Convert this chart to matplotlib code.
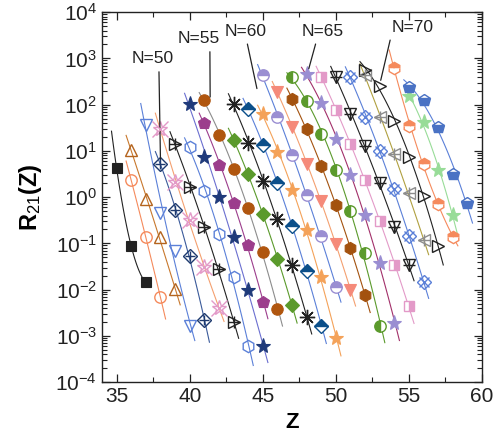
import numpy as np
import matplotlib
matplotlib.use('Agg')
import matplotlib.pyplot as plt
from matplotlib.ticker import LogLocator, MultipleLocator, NullFormatter

plt.rcParams['font.family'] = ['Liberation Sans', 'DejaVu Sans']
plt.rcParams['mathtext.fontset'] = 'custom'
plt.rcParams['mathtext.rm'] = 'Liberation Sans'
plt.rcParams['mathtext.it'] = 'Liberation Sans:italic'
plt.rcParams['mathtext.bf'] = 'Liberation Sans:bold'

# isotone number N, first Z of each chain, ratios R21
n_values = list(range(46, 74))
z_first = [35, 36, 36, 37, 38, 38, 39, 40, 40, 41, 41, 43, 43, 44,
           45, 45, 46, 47, 47, 48, 49, 50, 51, 52, 52, 54, 55, 55]
r21 = [
    [4.2, 0.087, 0.0143],                         # 46
    [2.3, 0.134, 0.0068],                         # 47
    [10.7, 0.90, 0.134, 0.0101],                  # 48
    [35.7, 0.46, 0.068, 0.00163],                 # 49
    [5.3, 0.52, 0.053, 0.0022],                   # 50
    [30, 2.1, 0.32, 0.031, 0.0040],               # 51
    [14.4, 1.68, 0.227, 0.0273, 0.0020],          # 52
    [12.1, 1.37, 0.158, 0.0189, 0.00060],         # 53
    [105, 7.4, 1.03, 0.134, 0.0098, 0.00060],     # 54
    [40, 4.9, 0.75, 0.091, 0.0055],               # 55
    [124, 22.5, 4.15, 0.57, 0.065, 0.0039],       # 56
    [17, 3.2, 0.43, 0.046, 0.0047],               # 57
    [105, 15, 2.26, 0.33, 0.034, 0.0025],         # 58
    [82, 13.2, 2.05, 0.235, 0.0255, 0.00167],     # 59
    [64, 9.5, 1.41, 0.193, 0.0183, 0.00090],      # 60
    [430, 54, 8.2, 1.13, 0.141, 0.0112],          # 61
    [187, 33, 5.3, 0.82, 0.0975, 0.0098],         # 62
    [135, 29, 4.6, 0.685, 0.078, 0.0076],         # 63
    [389, 120, 23.7, 3.8, 0.50, 0.062, 0.00163],  # 64
    [451, 108, 18.4, 2.97, 0.41, 0.038, 0.0019],  # 65
    [395, 78, 13.9, 2.4, 0.31, 0.034, 0.0044],    # 66
    [395, 63, 13, 1.97, 0.23, 0.034],             # 67
    [403, 54, 9.8, 1.5, 0.143, 0.0147],           # 68
    [430, 53, 8.5, 1.21, 0.116],                  # 69
    [570, 255, 45, 7.5, 1.07, 0.087],             # 70
    [624, 35, 5.3, 0.72, 0.136],                  # 71
    [155, 41.5, 3.8, 0.41],                       # 72
    [237, 124, 33, 3.2, 0.75],                    # 73
]

# labels with pointer: text, text position, pointed position, where the line leaves the text
labels = ['N=50', 'N=55', 'N=60', 'N=65', 'N=70']
label_xy = [(37.46, 980), (40.6, 2660), (43.81, 3890), (49.12, 3890), (55.24, 4740)]
label_target = [(38.0, 6.5), (41.4, 146), (44.6, 222), (48.15, 600), (53.07, 335)]
label_relx = [0.65, 0.77, 0.52, 0.36, 0.0]

# marker, marker colour, fill style, overlay marker, line colour
styles = [
    ('s', '#222222', 'full', None, '#222222'),
    ('o', '#f58a5c', 'none', None, '#f58a5c'),
    ('^', '#b4641e', 'none', None, '#c8782d'),
    ('v', '#5b80d8', 'none', None, '#5b80d8'),
    ('D', '#1e3a6e', 'none', '+', '#3a5a9a'),
    ('*', '#e39ac8', 'none', 'x', '#f4a070'),
    ('>', '#222222', 'none', '+', '#222222'),
    ('h', '#5b80d8', 'none', None, '#5b80d8'),
    ('*', '#1f3a7a', 'full', None, '#6b6fd0'),
    ('p', '#9c3d8c', 'full', None, '#9c3d8c'),
    ('o', '#b0560f', 'full', None, '#8c8c8c'),
    ('D', '#5b9a2c', 'full', None, '#5b9a2c'),
    ((8, 2, 0), '#222222', 'none', None, '#222222'),
    ('D', '#0b4f8a', 'top', None, '#5b80d8'),
    ('*', '#f4a259', 'full', None, '#f4a259'),
    ('o', '#9a8ed2', 'top', None, '#5b80d8'),
    ('v', '#f58a7a', 'full', None, '#f4a070'),
    ('h', '#a3520f', 'full', None, '#a3520f'),
    ('o', '#5b9a2c', 'left', None, '#5b9a2c'),
    ('*', '#9a8ed2', 'full', None, '#a2306a'),
    ('s', '#e39ac8', 'right', None, '#e39ac8'),
    ('v', '#222222', 'none', '+', '#222222'),
    ('D', '#5b80d8', 'none', 'x', '#5b80d8'),
    ('<', '#8c8c8c', 'none', '+', '#b0a040'),
    ('>', '#222222', 'none', None, '#222222'),
    ('h', '#f58a5c', 'top', None, '#f58a5c'),
    ('*', '#98dc98', 'full', None, '#98dc98'),
    ('p', '#4a72c4', 'bottom', None, '#5b80d8'),
]

sizes = {'s': 7.8, 'o': 8.2, '^': 8.8, 'v': 8.8, '<': 8.8, '>': 8.8, 'D': 7,
         '*': 11, 'h': 8.8, 'p': 9.2}

fig = plt.figure(figsize=(5, 4.48), dpi=100)
ax = fig.add_axes([0.204, 0.147, 0.76, 0.826])

for z0, vals, (mk, col, fill, extra, lcol) in zip(z_first, r21, styles):
    z = np.arange(z0, z0 + len(vals))
    r = np.array(vals)
    # trend line through the chain, a little past both ends
    coef = np.polyfit(z, np.log10(r), 2)
    zz = np.linspace(z[0] - 0.35, z[-1] + 0.35, 60)
    ax.plot(zz, 10 ** np.polyval(coef, zz), color=lcol, lw=0.8, zorder=1)

    ms = sizes.get(mk, 11) if isinstance(mk, str) else 11
    if fill == 'full':
        ax.plot(z, r, ls='none', marker=mk, ms=ms, mfc=col, mec=col,
                mew=0.8, zorder=3)
    elif fill == 'none':
        ax.plot(z, r, ls='none', marker=mk, ms=ms, mfc='none', mec=col,
                mew=1.0, zorder=3)
    else:
        ax.plot(z, r, ls='none', marker=mk, ms=ms, fillstyle=fill, mfc=col,
                mfcalt='white', mec=col, mew=1.0, zorder=3)
    if extra is not None:
        ax.plot(z, r, ls='none', marker=extra, ms=ms, mec=col, mew=1.0,
                zorder=4)

for txt, xy_t, xy_p, rx in zip(labels, label_xy, label_target, label_relx):
    ax.annotate(txt, xy=xy_p, xytext=xy_t, textcoords='data',
                ha='center', va='center', fontsize=12.5, color='#222222',
                arrowprops=dict(arrowstyle='-', color='#222222', lw=0.9,
                                relpos=(rx, 0.0), shrinkA=2, shrinkB=0))

ax.set_yscale('log')
ax.set_xlim(34, 60)
ax.set_ylim(1e-4, 1e4)
ax.xaxis.set_major_locator(MultipleLocator(5))
ax.xaxis.set_minor_locator(MultipleLocator(2.5))
ax.yaxis.set_major_locator(LogLocator(base=10, numticks=20))
ax.yaxis.set_minor_locator(LogLocator(base=10, subs=np.arange(2, 10), numticks=100))
ax.yaxis.set_minor_formatter(NullFormatter())

ax.tick_params(which='both', direction='in', top=True, right=True,
               labelsize=15, colors='#222222')
ax.tick_params(which='major', length=6, width=0.9)
ax.tick_params(which='minor', length=3.5, width=0.8)
for s in ax.spines.values():
    s.set_linewidth(1.0)
    s.set_color('#222222')

ax.set_xlabel('Z', fontsize=16, fontweight='bold', labelpad=4)
ax.set_ylabel(r'$\mathbf{R}_{21}\mathbf{(Z)}$', fontsize=17, labelpad=8)

fig.savefig('out.png', dpi=100)
